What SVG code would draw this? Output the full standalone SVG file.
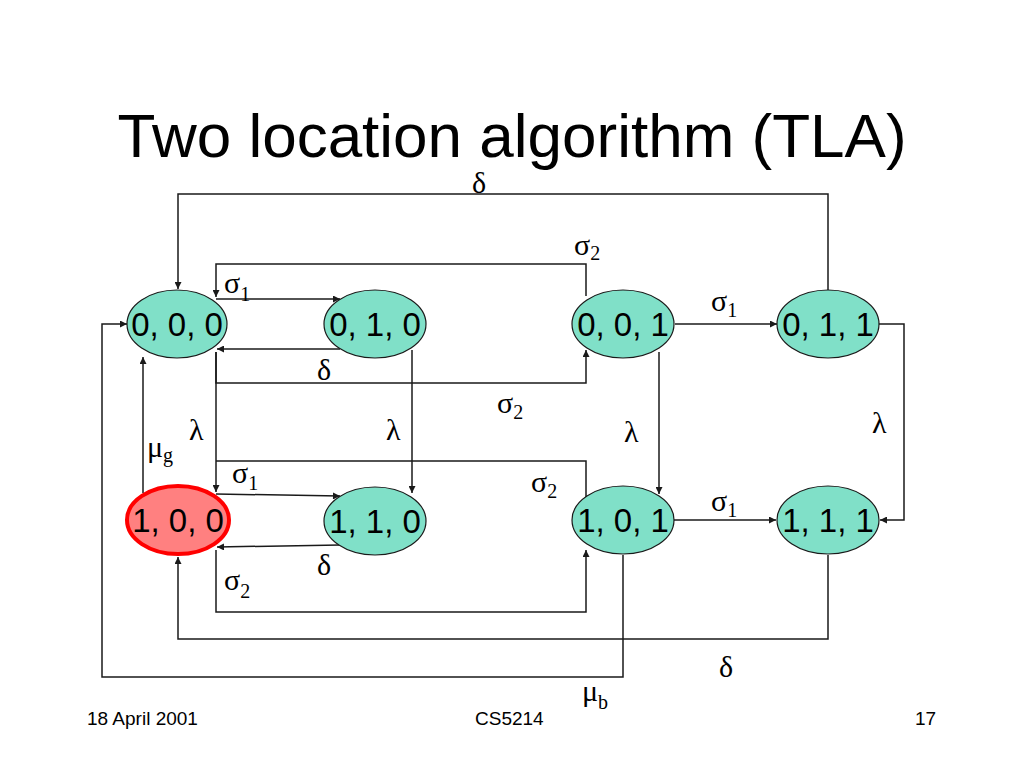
<svg xmlns="http://www.w3.org/2000/svg" width="1024" height="768" viewBox="0 0 1024 768">
<style>
.node{fill:#80E0C8;stroke:#1a1a1a;stroke-width:1.2}
.start{fill:#FF8080;stroke:#FF0000;stroke-width:4}
.nt{font-family:"Liberation Sans",Arial,sans-serif;font-size:33px;fill:#000;text-anchor:middle}
.ln{fill:none;stroke:#1a1a1a;stroke-width:1.5}
.gk{font-family:"Liberation Serif","Times New Roman",serif;font-size:30px;fill:#000}
.sub{font-size:20px}
.ft{font-family:"Liberation Sans",Arial,sans-serif;font-size:19px;fill:#000}
</style>
<defs>
<marker id="ah" viewBox="0 0 10 10" refX="10" refY="5" markerWidth="9" markerHeight="7" markerUnits="userSpaceOnUse" orient="auto">
<path d="M0,0 L10,5 L0,10 z" fill="#1a1a1a"/>
</marker>
</defs>
<rect width="1024" height="768" fill="#fff"/>
<text x="512" y="157" font-family="'Liberation Sans',Arial,sans-serif" font-size="62" text-anchor="middle" fill="#000">Two location algorithm (TLA)</text>

<g id="connectors">
<path class="ln" d="M828,290 V194 H178 V289" marker-end="url(#ah)"/>
<path class="ln" d="M586,296 V264 H216 V297" marker-end="url(#ah)"/>
<path class="ln" d="M216,299 H340" marker-end="url(#ah)"/>
<path class="ln" d="M340,349 H217" marker-end="url(#ah)"/>
<path class="ln" d="M216,352 V383 H586 V350" marker-end="url(#ah)"/>
<path class="ln" d="M216,352 V492" marker-end="url(#ah)"/>
<path class="ln" d="M412,350 V493" marker-end="url(#ah)"/>
<path class="ln" d="M143,493 V357" marker-end="url(#ah)"/>
<path class="ln" d="M586,497 V461 H216"/>
<path class="ln" d="M216,494 L340,496" marker-end="url(#ah)"/>
<path class="ln" d="M340,545 L217,547" marker-end="url(#ah)"/>
<path class="ln" d="M216,550 V612 H586 V550" marker-end="url(#ah)"/>
<path class="ln" d="M828,555 V639 H178 V557" marker-end="url(#ah)"/>
<path class="ln" d="M623,555 V677 H102 V324 H127" marker-end="url(#ah)"/>
<path class="ln" d="M675,324 H777" marker-end="url(#ah)"/>
<path class="ln" d="M659,352 V494" marker-end="url(#ah)"/>
<path class="ln" d="M878,324 H904 V520 H880" marker-end="url(#ah)"/>
<path class="ln" d="M674,520 H776" marker-end="url(#ah)"/>
</g>

<g id="labels">
<text class="gk" x="472" y="193">δ</text>
<text class="gk" x="574" y="255">σ<tspan class="sub" dy="5">2</tspan></text>
<text class="gk" x="224" y="293">σ<tspan class="sub" dy="8">1</tspan></text>
<text class="gk" x="317" y="380">δ</text>
<text class="gk" x="497" y="413">σ<tspan class="sub" dy="6">2</tspan></text>
<text class="gk" x="189" y="440">λ</text>
<text class="gk" x="386" y="440">λ</text>
<text class="gk" x="624" y="442">λ</text>
<text class="gk" x="872" y="433">λ</text>
<text class="gk" x="147" y="457">μ<tspan class="sub" dy="5">g</tspan></text>
<text class="gk" x="232" y="483">σ<tspan class="sub" dy="7">1</tspan></text>
<text class="gk" x="531" y="492">σ<tspan class="sub" dy="6">2</tspan></text>
<text class="gk" x="317" y="575">δ</text>
<text class="gk" x="224" y="590">σ<tspan class="sub" dy="8">2</tspan></text>
<text class="gk" x="711" y="311">σ<tspan class="sub" dy="6">1</tspan></text>
<text class="gk" x="711" y="511">σ<tspan class="sub" dy="6">1</tspan></text>
<text class="gk" x="719" y="677">δ</text>
<text class="gk" x="582" y="701">μ<tspan class="sub" dy="8">b</tspan></text>
</g>

<g id="n000"><ellipse class="node" cx="177" cy="324" rx="50" ry="34"/><text class="nt" x="177" y="336">0, 0, 0</text></g>
<g id="n010"><ellipse class="node" cx="375" cy="324" rx="51" ry="34"/><text class="nt" x="375" y="336">0, 1, 0</text></g>
<g id="n001"><ellipse class="node" cx="623" cy="324" rx="51" ry="34"/><text class="nt" x="623" y="336">0, 0, 1</text></g>
<g id="n011"><ellipse class="node" cx="828" cy="324" rx="51" ry="34"/><text class="nt" x="828" y="336">0, 1, 1</text></g>
<g id="n100"><ellipse class="start" cx="178" cy="520" rx="51" ry="34"/><text class="nt" x="178" y="532">1, 0, 0</text></g>
<g id="n110"><ellipse class="node" cx="375" cy="521" rx="51" ry="34"/><text class="nt" x="375" y="533">1, 1, 0</text></g>
<g id="n101"><ellipse class="node" cx="623" cy="520" rx="51" ry="34"/><text class="nt" x="623" y="532">1, 0, 1</text></g>
<g id="n111"><ellipse class="node" cx="828" cy="520" rx="51" ry="34"/><text class="nt" x="828" y="532">1, 1, 1</text></g>

<g id="footer">
<text class="ft" x="87" y="725">18 April 2001</text>
<text class="ft" x="475" y="725">CS5214</text>
<text class="ft" x="915" y="725">17</text>
</g>
</svg>
